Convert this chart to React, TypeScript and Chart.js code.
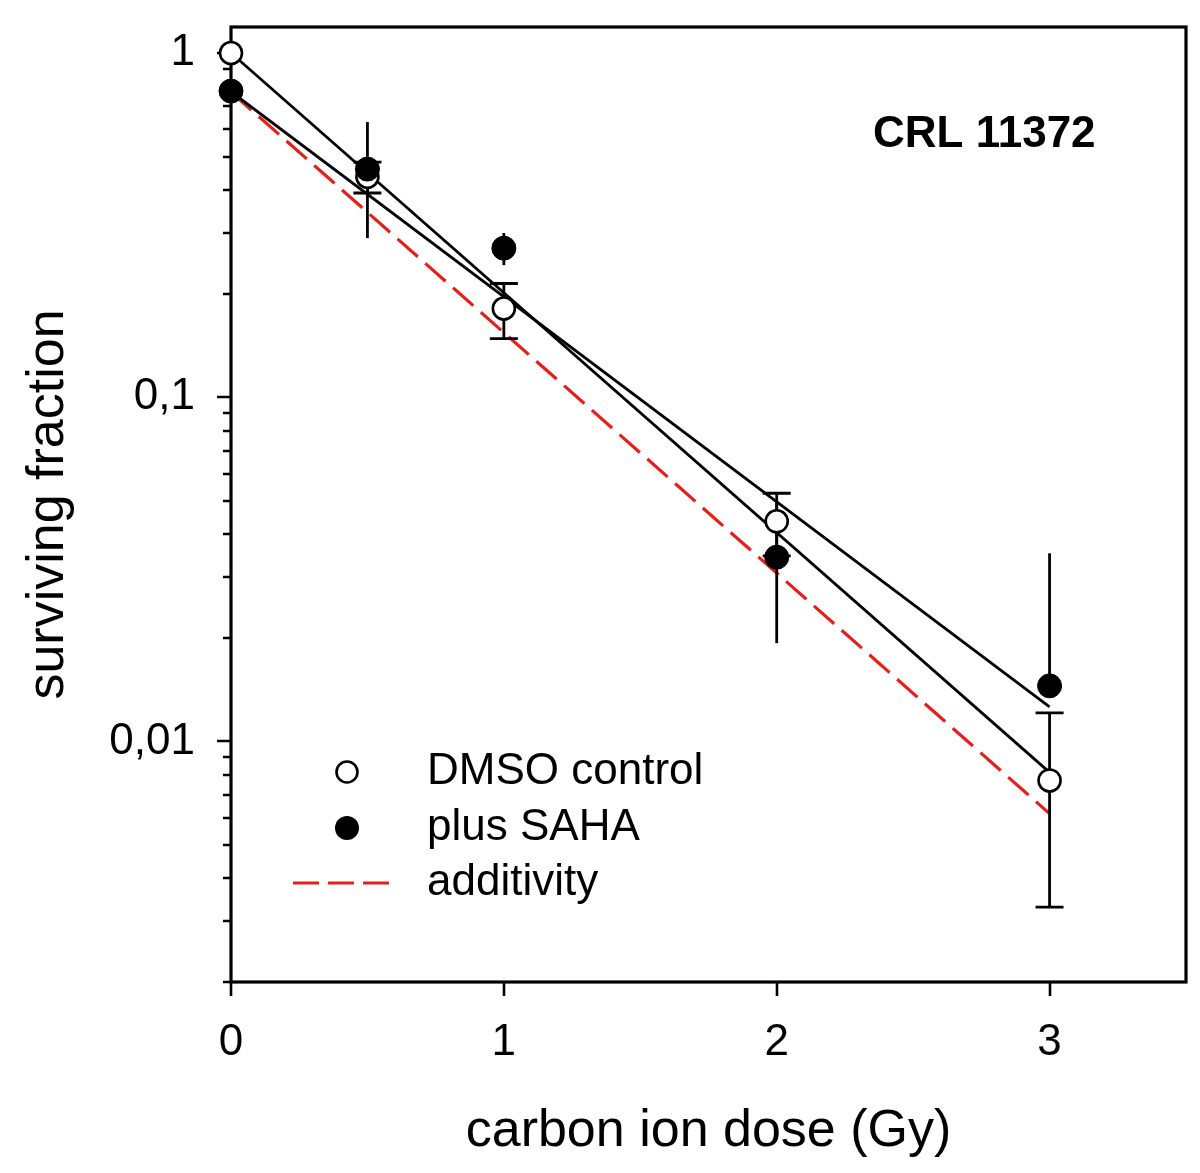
import React, { useEffect, useRef } from 'react';
import { Chart, registerables } from 'chart.js';

Chart.register(...registerables);

// ---- data ----
const doses = [0, 0.5, 1, 2, 3];
const dmsoSF = [1.0, 0.437, 0.181, 0.0436, 0.0077];
const dmsoErr = [0, 0.045, 0.033, 0.009, 0.0044];
const sahaSF = [0.775, 0.46, 0.271, 0.0343, 0.0145];
const sahaErr = [0.02, 0.17, 0.029, 0.015, 0.0207];

const fitDoses = [0, 3];
const dmsoFit = [1.0, 0.00813];
const sahaFit = [0.772, 0.0126];
const additivityFit = [0.77, 0.00617];

const xTicks = [0, 1, 2, 3];
const xTickLabels = ['0', '1', '2', '3'];
const yMajorTicks = [0.01, 0.1, 1];
const yTickLabels = ['0,01', '0,1', '1'];
const yMinorTicks = [0.002, 0.003, 0.004, 0.005, 0.006, 0.007, 0.008, 0.009,
  0.02, 0.03, 0.04, 0.05, 0.06, 0.07, 0.08, 0.09,
  0.2, 0.3, 0.4, 0.5, 0.6, 0.7, 0.8, 0.9];

const legendLabels = ['DMSO control', 'plus SAHA', 'additivity'];
const panelTitle = 'CRL 11372';
const xTitle = 'carbon ion dose (Gy)';
const yTitle = 'surviving fraction';

const FONT = '"Liberation Sans", Arial, Helvetica, sans-serif';
const RED = '#e3201b';

export default function App() {
  const ref = useRef<HTMLCanvasElement>(null);

  useEffect(() => {
    const canvas = ref.current;
    if (!canvas) return;

    const extras = {
      id: 'extras',
      beforeDatasetsDraw(chart: any) {
        const { ctx, chartArea: a, scales } = chart;
        const xs = scales.x;
        const ys = scales.y;
        ctx.save();
        ctx.strokeStyle = '#000';
        ctx.lineCap = 'butt';
        // frame
        ctx.lineWidth = 3.2;
        ctx.strokeRect(a.left, a.top, a.right - a.left, a.bottom - a.top);
        // y ticks
        ctx.lineWidth = 2.6;
        ctx.beginPath();
        yMajorTicks.forEach((v) => {
          const p = Math.round(ys.getPixelForValue(v));
          ctx.moveTo(a.left - 14, p);
          ctx.lineTo(a.left, p);
        });
        yMinorTicks.forEach((v) => {
          const p = Math.round(ys.getPixelForValue(v));
          ctx.moveTo(a.left - 8, p);
          ctx.lineTo(a.left, p);
        });
        // x ticks
        xTicks.forEach((v) => {
          const p = Math.round(xs.getPixelForValue(v));
          ctx.moveTo(p, a.bottom);
          ctx.lineTo(p, a.bottom + 14);
        });
        ctx.stroke();
        ctx.restore();
      },
      beforeDatasetDraw(chart: any, args: any) {
        if (args.index !== 1) return;
        const { ctx, scales } = chart;
        const xs = scales.x;
        const ys = scales.y;
        const drawBars = (vals: number[], errs: number[], cap: number) => {
          vals.forEach((v, i) => {
            const e = errs[i];
            if (!e) return;
            const px = xs.getPixelForValue(doses[i]);
            const pc = ys.getPixelForValue(v);
            const pt = ys.getPixelForValue(v + e);
            const pb = v - e > 0 ? ys.getPixelForValue(v - e) : pc;
            ctx.beginPath();
            ctx.moveTo(px, pt);
            ctx.lineTo(px, pb);
            if (cap > 0) {
              ctx.moveTo(px - cap, pt);
              ctx.lineTo(px + cap, pt);
              if (v - e > 0) {
                ctx.moveTo(px - cap, pb);
                ctx.lineTo(px + cap, pb);
              }
            }
            ctx.stroke();
          });
        };
        ctx.save();
        ctx.strokeStyle = '#000';
        ctx.lineWidth = 2.8;
        drawBars(dmsoSF, dmsoErr, 14);
        drawBars(sahaSF, sahaErr, 0);
        ctx.restore();
      },
      afterDraw(chart: any) {
        const { ctx } = chart;
        ctx.save();
        // title
        ctx.fillStyle = '#000';
        ctx.font = `bold 44px ${FONT}`;
        ctx.textAlign = 'left';
        ctx.textBaseline = 'alphabetic';
        ctx.fillText(panelTitle, 873, 147);
        // legend
        const mx = 347;
        const rows = [772, 828, 883];
        ctx.lineWidth = 2.6;
        ctx.strokeStyle = '#000';
        ctx.fillStyle = '#fff';
        ctx.beginPath();
        ctx.arc(mx, rows[0], 10.5, 0, Math.PI * 2);
        ctx.fill();
        ctx.stroke();
        ctx.fillStyle = '#000';
        ctx.beginPath();
        ctx.arc(mx, rows[1], 12, 0, Math.PI * 2);
        ctx.fill();
        ctx.strokeStyle = RED;
        ctx.lineWidth = 3.2;
        ctx.setLineDash([26, 9]);
        ctx.beginPath();
        ctx.moveTo(293, rows[2]);
        ctx.lineTo(389, rows[2]);
        ctx.stroke();
        ctx.setLineDash([]);
        ctx.fillStyle = '#000';
        ctx.font = `44px ${FONT}`;
        ctx.textBaseline = 'middle';
        legendLabels.forEach((t, i) => ctx.fillText(t, 427, rows[i]));
        ctx.restore();
      },
    };

    const toXY = (xs: number[], ys: number[]) => xs.map((x, i) => ({ x, y: ys[i] }));

    const chart = new Chart(canvas, {
      type: 'line',
      data: {
        datasets: [
          {
            label: 'plus SAHA',
            data: toXY(doses, sahaSF),
            showLine: false,
            pointRadius: 12,
            pointBackgroundColor: '#000',
            pointBorderColor: '#000',
            pointBorderWidth: 1,
            clip: false,
          },
          {
            label: 'DMSO control',
            data: toXY(doses, dmsoSF),
            showLine: false,
            pointRadius: 11,
            pointBackgroundColor: '#fff',
            pointBorderColor: '#000',
            pointBorderWidth: 2.6,
            clip: false,
          },
          {
            label: 'DMSO fit',
            data: toXY(fitDoses, dmsoFit),
            borderColor: '#000',
            borderWidth: 2.8,
            pointRadius: 0,
            tension: 0,
          },
          {
            label: 'SAHA fit',
            data: toXY(fitDoses, sahaFit),
            borderColor: '#000',
            borderWidth: 2.8,
            pointRadius: 0,
            tension: 0,
          },
          {
            label: 'additivity',
            data: toXY(fitDoses, additivityFit),
            borderColor: RED,
            borderWidth: 3.2,
            borderDash: [27, 10],
            pointRadius: 0,
            tension: 0,
          },
        ],
      },
      options: {
        responsive: false,
        animation: false,
        devicePixelRatio: 1,
        layout: { padding: { left: 0, top: 27, right: 14, bottom: 0 } },
        plugins: {
          legend: { display: false },
          tooltip: { enabled: false },
          title: { display: false },
        },
        scales: {
          x: {
            type: 'linear',
            min: 0,
            max: 3.5,
            afterBuildTicks: (s: any) => {
              s.ticks = xTicks.map((v) => ({ value: v }));
            },
            afterFit: (s: any) => {
              s.height = 191;
              s.paddingLeft = 0;
              s.paddingRight = 0;
            },
            grid: { display: false, drawTicks: false },
            border: { display: false },
            ticks: {
              autoSkip: false,
              maxRotation: 0,
              padding: 34,
              color: '#000',
              font: { family: FONT, size: 44 },
              callback: (v: any) => {
                const i = xTicks.indexOf(Number(v));
                return i >= 0 ? xTickLabels[i] : '';
              },
            },
            title: {
              display: true,
              text: xTitle,
              color: '#000',
              font: { family: FONT, size: 52 },
              padding: { top: 0, bottom: 10 },
            },
          },
          y: {
            type: 'logarithmic',
            min: 0.002,
            max: 1.19,
            afterBuildTicks: (s: any) => {
              s.ticks = yMajorTicks.map((v) => ({ value: v }));
            },
            afterFit: (s: any) => {
              s.width = 231;
              s.paddingTop = 0;
              s.paddingBottom = 0;
            },
            grid: { display: false, drawTicks: false },
            border: { display: false },
            ticks: {
              autoSkip: false,
              padding: 36,
              color: '#000',
              font: { family: FONT, size: 44 },
              callback: (v: any) => {
                const i = yMajorTicks.findIndex((t) => Math.abs(t - Number(v)) < t * 1e-6);
                return i >= 0 ? yTickLabels[i] : '';
              },
            },
            title: {
              display: true,
              text: yTitle,
              color: '#000',
              font: { family: FONT, size: 52 },
              padding: { top: 17, bottom: 0 },
            },
          },
        },
      },
      plugins: [extras],
    } as any);

    return () => chart.destroy();
  }, []);

  return (
    <div style={{ position: 'fixed', left: 0, top: 0, width: 1200, height: 1173, background: '#fff' }}>
      <canvas ref={ref} width={1200} height={1173} style={{ display: 'block' }} />
    </div>
  );
}
